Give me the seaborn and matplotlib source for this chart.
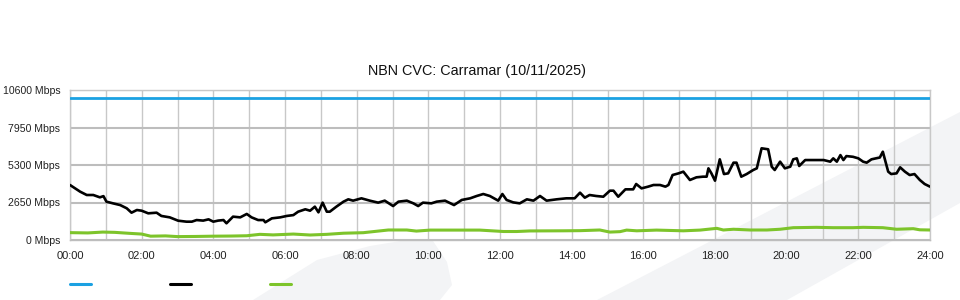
import matplotlib
matplotlib.use("Agg")
import matplotlib.pyplot as plt
from matplotlib.patches import Polygon
from matplotlib.lines import Line2D
import seaborn as sns
import pandas as pd

# ---- data (minutes since midnight, Mbps) ----
capacity_min = [0, 1440]
capacity_mbps = [10000, 10000]

used_min = [0, 17, 28, 39, 50, 56, 61, 72, 84, 95, 103, 112, 120, 131, 145, 153, 167, 181, 195, 204,
            212, 223, 232, 240, 248, 257, 262, 273, 285, 296, 304, 315, 324, 327, 338, 352, 363, 374,
            382, 394, 402, 410, 416, 423, 430,
            435, 446, 458, 466, 474, 488, 502, 516, 527, 541, 550, 564, 575, 583, 591, 605, 614, 628,
            643, 656, 670, 681, 692, 703, 717, 724, 731, 742, 753, 765, 776, 787, 798, 815, 831, 845,
            854, 862, 870, 881,
            893, 904, 910, 918, 930, 943, 948, 957, 968, 977, 988, 997, 1002, 1009, 1019, 1027, 1038,
            1049, 1060, 1066, 1069, 1074, 1080, 1088, 1095, 1102, 1111, 1116, 1124, 1133, 1144, 1150,
            1158, 1169, 1175, 1180, 1189, 1197, 1206, 1211, 1217, 1221, 1231, 1245, 1262, 1273, 1278,
            1284, 1290, 1295, 1300, 1311, 1320, 1328, 1334, 1342, 1350, 1356, 1361, 1370, 1375, 1384,
            1390, 1398, 1406, 1414, 1423, 1431, 1440]
used_mbps = [3887, 3415, 3180, 3180, 3015, 3100, 2710, 2590, 2470, 2240, 1930, 2120, 2070, 1885, 1930,
             1700, 1600, 1365, 1295, 1295, 1410, 1370, 1460, 1295, 1370, 1410, 1180, 1650, 1600, 1840,
             1600, 1410, 1410, 1250, 1530, 1600, 1700, 1760, 2000, 2170, 2070, 2355, 1955, 2640, 2000,
             2000, 2355, 2710, 2875, 2780, 2945, 2780, 2640, 2780, 2400, 2710, 2780, 2590, 2400, 2640,
             2590, 2710, 2780, 2470, 2830, 2945, 3110, 3250, 3110, 2780, 3250, 2830, 2660, 2590, 2875,
             2780, 3110, 2780, 2875, 2945, 2945, 3345, 2990, 3180, 3110,
             3060, 3485, 3485, 3060, 3580, 3580, 3957, 3650, 3770, 3887, 3887, 3770, 3887, 4593, 4710,
             4830, 4240, 4430, 4475, 4475, 5065, 4710, 4190, 5700, 4660, 4710, 5465, 5465, 4475, 4660,
             4947, 5065, 6480, 6410, 5180, 4947, 5535, 5065, 5180, 5700, 5770, 5230, 5650, 5650, 5650,
             5535, 5770, 5535, 6000, 5650, 5930, 5880, 5770, 5535, 5465, 5700, 5770, 5830, 6240, 4830,
             4660, 4710, 5135, 4830, 4590, 4660, 4240, 3957, 3770]

other_min = [0, 30, 55, 75, 100, 120, 135, 160, 180, 210, 240, 270, 296, 318, 340, 374, 402, 430, 458,
             491, 533, 564, 580, 603, 659, 686, 726, 748, 770, 826, 854, 887, 904, 921, 932, 949, 982,
             1027, 1055, 1083, 1094, 1111, 1139, 1167, 1189, 1211, 1250, 1278, 1311, 1328, 1361, 1384,
             1412, 1423, 1440]
other_mbps = [520, 500, 560, 540, 470, 420, 270, 290, 240, 250, 270, 280, 300, 400, 360, 420, 353, 400,
              480, 516, 707, 707, 630, 700, 700, 700, 600, 600, 640, 650, 660, 707, 560, 590, 700, 650,
              700, 650, 700, 824, 707, 760, 707, 707, 760, 870, 895, 870, 870, 895, 870, 760, 800, 720,
              707]

xtick_min = list(range(0, 1441, 120))
xtick_labels = [f"{m // 60:02d}:00" for m in xtick_min]
ytick_vals = [0, 2650, 5300, 7950, 10600]
ytick_labels = [f"{v} Mbps" for v in ytick_vals]
title = "NBN CVC: Carramar (10/11/2025)"

BLUE = "#1ba1e2"
BLACK = "#000000"
GREEN = "#7dc42b"

sns.set_theme(style="white")
plt.rcParams["font.family"] = ["Liberation Sans", "DejaVu Sans"]

fig = plt.figure(figsize=(9.6, 3.0), dpi=100)
fig.patch.set_facecolor("white")
ax = fig.add_axes([70 / 960, 60 / 300, 860 / 960, 150 / 300])
ax.set_facecolor("none")

# decorative background watermark shapes (figure pixel coords)
def fpoly(pts):
    return Polygon([(x / 960, 1 - y / 300) for x, y in pts], closed=True,
                   transform=fig.transFigure, facecolor="#f3f4f6", edgecolor="none", zorder=-10)

fig.patches.append(fpoly([(597, 300), (960, 112), (960, 203), (787, 300)]))
fig.patches.append(fpoly([(253, 300), (317, 260), (370, 246), (413, 239), (433, 241),
                          (447, 262), (452, 285), (440, 300)]))

df_cap = pd.DataFrame({"t": capacity_min, "v": capacity_mbps})
df_used = pd.DataFrame({"t": used_min, "v": used_mbps})
df_oth = pd.DataFrame({"t": other_min, "v": other_mbps})

sns.lineplot(data=df_cap, x="t", y="v", ax=ax, color=BLUE, lw=2.0, zorder=4)
sns.lineplot(data=df_oth, x="t", y="v", ax=ax, color=GREEN, lw=2.2, zorder=4)
sns.lineplot(data=df_used, x="t", y="v", ax=ax, color=BLACK, lw=1.9, zorder=5)

ax.set_xlim(0, 1440)
ax.set_ylim(0, 10600)
ax.set_xticks(xtick_min)
ax.set_xticklabels(xtick_labels)
ax.set_xticks(list(range(0, 1441, 60)), minor=True)
ax.set_yticks(ytick_vals)
ax.set_yticklabels(ytick_labels)
ax.set_xlabel("")
ax.set_ylabel("")
ax.tick_params(axis="both", which="both", length=0, colors="#222222")
ax.tick_params(axis="x", pad=8, labelsize=8)
ax.tick_params(axis="y", pad=7, labelsize=7.6)
ax.grid(which="both", axis="x", color="#c8c8c8", lw=1.0, zorder=0)
ax.grid(which="major", axis="y", color="#bdbdbd", lw=1.5, zorder=0)
ax.set_axisbelow(True)
for s in ax.spines.values():
    s.set_color("#c8c8c8")
    s.set_linewidth(1.0)
ax.spines["bottom"].set_color("#bdbdbd")

fig.text(477.5 / 960, 1 - 71 / 300, title, ha="center", va="center", fontsize=10.4, color="#111111")

handles = [Line2D([], [], color=BLUE, lw=2.2), Line2D([], [], color=BLACK, lw=2.2),
           Line2D([], [], color=GREEN, lw=2.2)]
fig.legend(handles, ["", "", ""], loc="center left", bbox_to_anchor=(70 / 960, 1 - 285 / 300),
           ncol=3, frameon=False, borderpad=0, borderaxespad=0, handlelength=2.0,
           handletextpad=0, columnspacing=7.6, fontsize=7.5)

fig.savefig("out.png", dpi=100, facecolor="white")
